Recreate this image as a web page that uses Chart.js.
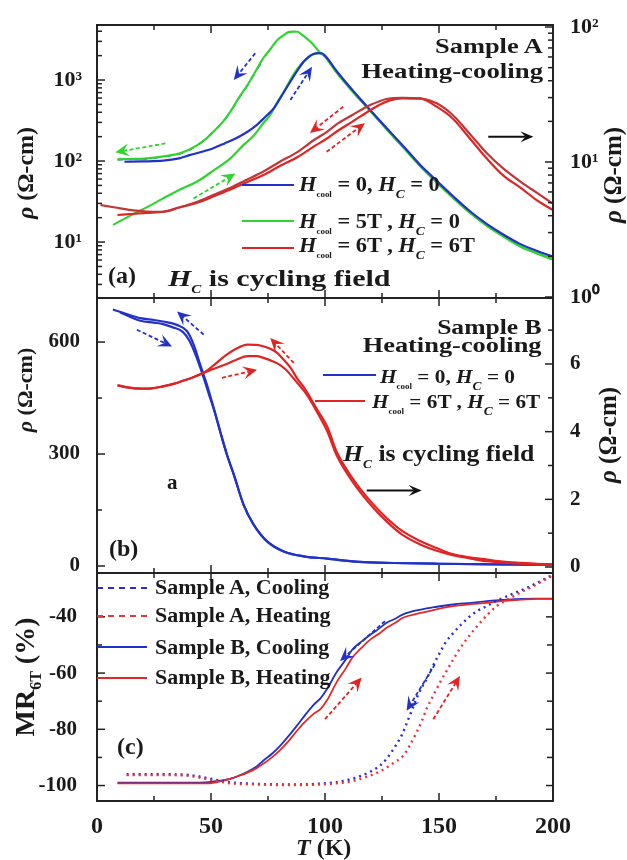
<!DOCTYPE html>
<html><head><meta charset="utf-8">
<script src="https://cdn.jsdelivr.net/npm/chart.js@4.4.1/dist/chart.umd.min.js"></script>
<style>
html,body{margin:0;padding:0;background:#fff;}
#wrap{position:relative;width:627px;height:860px;overflow:hidden;background:#fff;}
#wrap canvas{position:absolute;left:0;top:0;}
.t{position:absolute;white-space:nowrap;line-height:1;font-family:'Liberation Serif','Times New Roman',serif;font-weight:bold;color:#1a1a1a;}
.sc{font-size:8px;position:relative;top:6px;font-style:normal;}
.sC{font-size:12px;position:relative;top:7px;font-style:italic;}
.leg{position:absolute;height:0;}
</style></head><body>
<div id="wrap">
<canvas id="ca" width="627" height="860"></canvas>
<canvas id="cb" width="627" height="860"></canvas>
<canvas id="cc" width="627" height="860"></canvas>
</div>
<script>
// ---------------- DATA ----------------
// Panel (a) Sample A, log rho (left axis: H_cool=0 and 5T ; right axis: 6T cycling)
const T_aBlueHeat = [12,20,29,36,41,46,51,56,61,66,70,74,77.5,81,84.8,88,90.6,93,95,97,98.5,100,105,112.4,119.7,127,134.4,141.7,149,156.3,163.6,170.9,178,185.5,192.8,200];
const V_aBlueHeat = [98,99,101,108,119,130,144,165,191,230,278,355,447,640,953,1320,1680,1950,2100,2150,2140,2000,1300,730,430,255,152,90,57,36.5,24,16.8,12.5,9.5,7.8,6.6];
const T_aBlueCool = [9,15,22,30,37,44,48,51,55,58.5,62,66,70,72];
const V_aBlueCool = [104,105,107,114,125,156,189,229,298,404,585,860,1330,1620];
const T_aGreenCool = [9,15,22,30,37,44,48,51,55,58.5,62,66,70,73,76,79,82,84,86,88,90,92,94,96,98,100,105,112.4,119.7,127,134.4,141.7,149,156.3,163.6,170.9,178,185.5,192.8,200];
const V_aGreenCool = [105,106,108,115,126,157,190,230,300,406,590,866,1350,1870,2400,3100,3600,3900,3960,3940,3600,3250,2900,2500,2150,1950,1250,705,420,248,147,87,54.5,35,23,16,11.9,8.9,7.3,6.1];
const T_aGreenHeat = [7,15,22,29,36,44,51,58.5,64,69,73,76,79,82,85,88,91,94,97,98.5,100,105,112.4,119.7,127,134.4,141.7,149,156.3,163.6,170.9,178,185.5,192.8,200];
const V_aGreenHeat = [16.3,21.5,27,34.6,44,56,76,108,155,210,295,370,525,718,1030,1390,1720,2040,2140,2120,1950,1250,705,420,248,147,87,54.5,35,23,16,11.9,8.9,7.3,6.1];
const T_aRedCool = [1.5,8,15,22,29,36,44,51,58,65,73,80,88,95,101,106,112,120,127,134,142,149,156,164,171,178,186,193,200];
const V_aRedCool = [4.8,4.6,4.4,4.3,4.28,4.6,5.08,5.7,6.38,7.3,8.5,10.0,11.9,14.5,16.8,19.5,22.3,26.5,29.3,29.9,29.6,27.2,22.3,15.8,11.6,9.0,7.1,5.9,4.9];
const T_aRedHeat = [9,15,22,29,36,44,51,58,65,73,80,88,95,101,106,112,120,127,134,142,149,156,164,171,178,186,193,200];
const V_aRedHeat = [4.05,4.12,4.2,4.28,4.6,5.0,5.55,6.2,7.0,8.0,9.3,10.9,13.0,15.0,17.2,19.9,24.3,28.0,29.6,29.5,25.7,21.0,14.6,10.6,8.0,6.4,5.2,4.4];

// Panel (b) Sample B, linear rho (left: H_cool=0 ; right: 6T cycling)
const T_bBlueCool = [7,13,19,25,29,35,39.5,42.4,45.3,48.2,51.2,54,57,60,64.3,68.7,74.6,81.9,90.6,101,115,130,150,175,200];
const V_bBlueCool = [687,675,664,659,655,646,629,593,539,486,423,361,298,245,164,111,66,39,26,19.6,11,8,6,4.5,3.6];
const T_bBlueHeat = [10,19,25,29,33,37.5,40.4,43.3,46.2,49.2,52,54,57,60,64.3,68.7,74.6,81.9,90.6,101,115,130,150,175,200];
const V_bBlueHeat = [680,657,652,648,640,628,605,565,515,458,405,361,298,245,164,111,66,39,26,19.6,11,8,6,4.5,3.6];
const T_bRedCool = [9,14,19,24,29,34,38,43,47,51,56,61,66,72,76,79,82,85,88,91,94,97,101,105,112,120,127,134,142,149,156,164,171,178,186,193,200];
const V_bRedCool = [5.37,5.3,5.27,5.28,5.34,5.42,5.51,5.63,5.75,5.95,6.23,6.45,6.57,6.54,6.45,6.33,6.12,5.88,5.55,5.29,4.95,4.6,4.15,3.42,2.63,1.94,1.45,1.06,0.76,0.56,0.38,0.28,0.22,0.16,0.12,0.09,0.07];
const T_bRedHeat = [9,14,19,24,29,34,38,43,47,51,56,61,66,70,73,77,80,83,86,89,91,94,97,101,105,112,120,127,134,142,149,156,164,171,178,186,193,200];
const V_bRedHeat = [5.37,5.3,5.27,5.28,5.34,5.42,5.51,5.63,5.75,5.85,5.98,6.12,6.23,6.23,6.18,6.08,5.98,5.82,5.59,5.35,5.19,4.88,4.52,4.01,3.32,2.53,1.84,1.35,0.95,0.66,0.48,0.35,0.25,0.17,0.13,0.1,0.08,0.06];

// Panel (c) MR_6T (%)
const T_cACool = [13,20,30,40,45,50,55,60,70,80,90,98,105,112,116,120,124,127,131,134,136,138,140,142,144.5,147,150.4,153,156.3,160,163.6,167,170.9,175,179.7,184,188.5,194,200];
const V_cACool = [-96,-96,-96,-96.2,-96.8,-97.6,-98.4,-99,-99.4,-99.6,-99.6,-99.3,-98.8,-97.6,-96.5,-95,-93,-90.5,-85.8,-81.5,-77.5,-73.5,-69.3,-65.8,-62.2,-58,-52.7,-49,-45.7,-42.5,-39.8,-37.8,-36.2,-34.4,-32.7,-31.2,-29.7,-27.5,-25];
const T_cAHeat = [13,20,30,40,45,50,55,60,70,80,90,98,105,112,118,124,130,134.4,137,140.2,142.5,144.5,147.5,150.4,153.5,156.3,159,162.1,165,168,171.5,175.3,179,182.6,187,191.4,196,200];
const V_cAHeat = [-96.3,-96.3,-96.3,-96.5,-97.2,-98,-98.8,-99.3,-99.6,-99.8,-99.8,-99.6,-99.2,-98.4,-97,-95,-92,-89.3,-86,-81,-77,-72.8,-68,-63.4,-59,-55.1,-51.5,-48,-45,-42.1,-39,-36.2,-34.3,-32.7,-30.8,-29.1,-27,-25.2];
const T_cBCool = [9,20,30,40,49,54,58.5,62,66,70,73,77,80.4,84,87.7,91,95,98,101,105,109,112,116,120,124,127,131,134,142,149,156,164,171,178,186,193,200];
const V_cBCool = [-99,-99,-99,-99,-98.8,-98.3,-97.6,-96.6,-95.1,-93.2,-91.1,-88.5,-85.8,-82.4,-78.7,-75.2,-71.3,-69,-65.5,-59.8,-55.3,-51.6,-48.8,-46.3,-44,-42.1,-40.6,-39.2,-37.4,-36.4,-35.6,-35,-34.4,-34,-33.6,-33.5,-33.5];
const T_cBHeat = [9,20,30,40,49,54,58.5,62,66,70,73,77,80.4,84,87.7,91,95,98,101,105,109,112,116,120,124,127,131,134,142,149,156,164,171,178,186,193,200];
const V_cBHeat = [-99.2,-99.2,-99.2,-99.2,-99.2,-98.5,-97.5,-96.6,-95.4,-93.8,-92.2,-89.8,-87.3,-84.2,-80.5,-77.5,-74.5,-72.8,-69.5,-63.4,-58.5,-54.5,-51,-48,-45.8,-43.9,-42,-40.4,-38.6,-37.3,-36.2,-35.5,-35,-34.3,-33.9,-33.6,-33.6];

// Tick values
const X_TICK_LABELS = [0,50,100,150,200];
const X_MAJOR = [50,100,150];
const X_MINOR = [25,75,125,175];
const A_LEFT_MAJOR = [10,100,1000];
const A_LEFT_MINOR = [3,4,5,6,7,8,9,20,30,40,50,60,70,80,90,200,300,400,500,600,700,800,900,2000,3000,4000];
const A_RIGHT_MAJOR = [1,10,100];
const A_RIGHT_MINOR = [2,3,4,5,6,7,8,9,20,30,40,50,60,70,80,90];
const B_LEFT_MAJOR = [0,300,600];
const B_LEFT_MINOR = [150,450];
const B_RIGHT_MAJOR = [0,2,4,6];
const B_RIGHT_MINOR = [1,3,5,7];
const C_LEFT_MAJOR = [-100,-80,-60,-40];
const C_LEFT_MINOR = [-90,-70,-50];

// Arrows (data coordinates)
const ARROWS_A = [
  {y:'yL', from:[69.4,2140], to:[60,1000], c:'blue'},
  {y:'yL', from:[84.8,566], to:[94.3,1460], c:'blue'},
  {y:'yL', from:[30,165], to:[8,128], c:'green'},
  {y:'yL', from:[42.4,34.6], to:[60.7,70], c:'green'},
  {y:'yR', from:[108,25.7], to:[93.4,16.4], c:'red'},
  {y:'yR', from:[100.7,11.9], to:[117.5,19.4], c:'red'},
  {y:'yR', from:[171.6,15.4], to:[191.4,15.4], c:'black'}
];
const ARROWS_B = [
  {y:'yL', from:[17.5,633], to:[32.9,588], c:'blue'},
  {y:'yL', from:[46.8,620], to:[35.1,682], c:'blue'},
  {y:'yR', from:[86.3,6.03], to:[76,6.77], c:'red'},
  {y:'yR', from:[54.8,5.59], to:[70.2,5.83], c:'red'},
  {y:'yR', from:[118.3,2.26], to:[142.4,2.26], c:'black'}
];
const ARROWS_C = [
  {y:'yL', from:[126.3,-41.5], to:[106.6,-55.7], c:'blue'},
  {y:'yL', from:[100,-76.4], to:[116.1,-61.6], c:'red'},
  {y:'yL', from:[148.2,-56.9], to:[135.8,-73.4], c:'blue'},
  {y:'yL', from:[147.5,-76.4], to:[159.2,-61], c:'red'}
];

// ---------------- STYLE ----------------
const COL = {blue:'#2232c8', green:'#2fd42f', red:'#e02424', red2:'#c23636', black:'#111'};
const FONT = "'Liberation Serif','Times New Roman',serif";
const TXT = '#1a1a1a';
const W = 627;

const pts = (T,V) => T.map((t,i)=>({x:t,y:V[i]}));
function ds(T,V,color,axis,extra){
  return Object.assign({data:pts(T,V), borderColor:color, backgroundColor:color, borderWidth:2.2, yAxisID:axis,
    pointRadius:0, fill:false, cubicInterpolationMode:'monotone', clip:3}, extra||{});
}
const SUP = {'0':'\u2070','1':'\u00b9','2':'\u00b2','3':'\u00b3','4':'\u2074'};
const logLabel = v => { const e=Math.round(Math.log10(v)); return '10'+(SUP[String(e)]||e); };
const setTicks = arr => (s => { s.ticks = arr.map(v=>({value:v})); });

function yAxis(pos, type, min, max, major, width, fontSize, labelFn, pad){
  return {type, position:pos, min, max, bounds:'data',
    afterFit: s=>{ s.width = width; },
    afterBuildTicks: setTicks(major),
    ticks:{callback: labelFn || (v=>String(v)), font:{family:FONT, size:fontSize, weight:'bold'}, color:TXT, padding:pad, autoSkip:false},
    grid:{display:false}, border:{display:false}};
}

function arrowDraw(chart, ar){
  const ctx = chart.ctx, xs = chart.scales.x, ys = chart.scales[ar.y];
  const x1=xs.getPixelForValue(ar.from[0]), y1=ys.getPixelForValue(ar.from[1]);
  const x2=xs.getPixelForValue(ar.to[0]), y2=ys.getPixelForValue(ar.to[1]);
  const a=Math.atan2(y2-y1,x2-x1), c=Math.cos(a), s=Math.sin(a);
  const black = ar.c==='black';
  const hl = black?13:14, hw = black?5.5:6.5;
  const col = COL[ar.c];
  ctx.save();
  ctx.strokeStyle=col; ctx.fillStyle=col; ctx.lineWidth= black?2:1.8;
  ctx.setLineDash(black?[]:[4,2.5]);
  ctx.beginPath(); ctx.moveTo(x1,y1); ctx.lineTo(x2-hl*0.6*c, y2-hl*0.6*s); ctx.stroke();
  ctx.setLineDash([]);
  ctx.beginPath();
  ctx.moveTo(x2,y2);
  ctx.lineTo(x2-hl*c-hw*s, y2-hl*s+hw*c);
  ctx.lineTo(x2-hl*0.6*c, y2-hl*0.6*s);
  ctx.lineTo(x2-hl*c+hw*s, y2-hl*s-hw*c);
  ctx.closePath(); ctx.fill();
  ctx.restore();
}

function framePlugin(cfg){
  return {id:'frame'+cfg.name, afterDatasetsDraw(chart){
    const ctx=chart.ctx, a=chart.chartArea, sc=chart.scales;
    (cfg.arrows||[]).forEach(ar=>arrowDraw(chart, ar));
    ctx.save();
    ctx.strokeStyle='#222'; ctx.lineWidth=1.5;
    const tk=(x1,y1,x2,y2)=>{ctx.beginPath();ctx.moveTo(x1,y1);ctx.lineTo(x2,y2);ctx.stroke();};
    const x=sc.x;
    X_MAJOR.forEach(v=>{const p=x.getPixelForValue(v); tk(p,a.top,p,a.top+8); tk(p,a.bottom,p,a.bottom-8);});
    X_MINOR.forEach(v=>{const p=x.getPixelForValue(v); tk(p,a.top,p,a.top+5); tk(p,a.bottom,p,a.bottom-5);});
    if(cfg.left){const s=sc[cfg.left.id];
      cfg.left.major.forEach(v=>{const p=s.getPixelForValue(v); tk(a.left,p,a.left+8,p); if(cfg.mirror) tk(a.right,p,a.right-7,p);});
      cfg.left.minor.forEach(v=>{const p=s.getPixelForValue(v); tk(a.left,p,a.left+5,p); if(cfg.mirror) tk(a.right,p,a.right-6,p);});}
    if(cfg.right){const s=sc[cfg.right.id];
      cfg.right.major.forEach(v=>{const p=s.getPixelForValue(v); tk(a.right,p,a.right-8,p);});
      cfg.right.minor.forEach(v=>{const p=s.getPixelForValue(v); tk(a.right,p,a.right-5,p);});}
    ctx.lineWidth=2; ctx.strokeStyle='#222';
    ctx.strokeRect(a.left,a.top,a.right-a.left,a.bottom-a.top);
    ctx.restore();
  }};
}

const baseOpts = (padTop,padBottom,padRight,scales)=>({
  responsive:false, animation:false, events:[],
  layout:{padding:{top:padTop,bottom:padBottom,left:0,right:padRight}},
  plugins:{legend:{display:false}, tooltip:{enabled:false}},
  scales
});
const xHidden = {type:'linear', min:0, max:200, bounds:'data', display:false};

// ---------------- PANEL A ----------------
new Chart(document.getElementById('ca'), {
  type:'line',
  data:{datasets:[
    ds(T_aRedCool,V_aRedCool,COL.red2,'yR'),
    ds(T_aRedHeat,V_aRedHeat,COL.red,'yR'),
    ds(T_aBlueHeat,V_aBlueHeat,COL.blue,'yL'),
    ds(T_aGreenHeat,V_aGreenHeat,COL.green,'yL'),
    ds(T_aGreenCool,V_aGreenCool,COL.green,'yL'),
    ds(T_aBlueCool,V_aBlueCool,COL.blue,'yL',{borderDash:[6,6],borderWidth:1.6})
  ]},
  options: baseOpts(25, 562, 0, {
    x: xHidden,
    yL: yAxis('left','logarithmic',2.04,4775,A_LEFT_MAJOR,97,22,logLabel,7),
    yR: yAxis('right','logarithmic',0.983,103.5,A_RIGHT_MAJOR,74,22,logLabel,9)
  }),
  plugins:[framePlugin({name:'A', arrows:ARROWS_A, left:{id:'yL',major:A_LEFT_MAJOR,minor:A_LEFT_MINOR}, right:{id:'yR',major:A_RIGHT_MAJOR,minor:A_RIGHT_MINOR}})]
});

// ---------------- PANEL B ----------------
new Chart(document.getElementById('cb'), {
  type:'line',
  data:{datasets:[
    ds(T_bRedCool,V_bRedCool,COL.red,'yR'),
    ds(T_bRedHeat,V_bRedHeat,COL.red,'yR'),
    ds(T_bBlueCool,V_bBlueCool,COL.blue,'yL'),
    ds(T_bBlueHeat,V_bBlueHeat,COL.blue,'yL')
  ]},
  options: baseOpts(298, 287, 0, {
    x: xHidden,
    yL: yAxis('left','linear',-18.75,718,B_LEFT_MAJOR,97,21,null,9),
    yR: yAxis('right','linear',-0.177,7.95,B_RIGHT_MAJOR,74,21,null,9)
  }),
  plugins:[framePlugin({name:'B', arrows:ARROWS_B, left:{id:'yL',major:B_LEFT_MAJOR,minor:B_LEFT_MINOR}, right:{id:'yR',major:B_RIGHT_MAJOR,minor:B_RIGHT_MINOR}})]
});

// ---------------- PANEL C ----------------
new Chart(document.getElementById('cc'), {
  type:'line',
  data:{datasets:[
    ds(T_cAHeat,V_cAHeat,'#e23a3a','yL',{borderDash:[2,4],borderWidth:2.4}),
    ds(T_cACool,V_cACool,'#2a2ad2','yL',{borderDash:[2,4],borderWidth:2.4}),
    ds(T_cBHeat,V_cBHeat,'#e02a2a','yL',{borderWidth:1.8}),
    ds(T_cBCool,V_cBCool,'#2030c8','yL',{borderWidth:1.8})
  ]},
  options: baseOpts(573, 0, 74, {
    x: {type:'linear', min:0, max:200, bounds:'data', position:'bottom',
        afterFit: s=>{ s.height = 59; },
        afterBuildTicks: setTicks(X_TICK_LABELS),
        ticks:{font:{family:FONT,size:24,weight:'bold'}, color:TXT, padding:3, maxRotation:0, autoSkip:false},
        grid:{display:false}, border:{display:false}},
    yL: yAxis('left','linear',-105.5,-24.4,C_LEFT_MAJOR,97,21,null,12)
  }),
  plugins:[framePlugin({name:'C', arrows:ARROWS_C, mirror:true, left:{id:'yL',major:C_LEFT_MAJOR,minor:C_LEFT_MINOR}})]
});

// ---------------- TEXT OVERLAYS ----------------
const wrap = document.getElementById('wrap');
function txt(html, x, base, size, o){
  o = o||{};
  const d=document.createElement('div'); d.className='t'; d.innerHTML=html;
  d.style.fontSize=size+'px'; d.style.top=(base-0.84*size)+'px';
  const sx = o.sx||1;
  if(o.align==='right'){ d.style.right=(W-x)+'px'; d.style.transformOrigin='right top'; }
  else { d.style.left=x+'px'; d.style.transformOrigin='left top'; }
  if(sx!==1) d.style.transform='scaleX('+sx+')';
  wrap.appendChild(d);
}
function vtxt(html, cx, cy, size, sx){
  const d=document.createElement('div'); d.className='t'; d.innerHTML=html;
  d.style.fontSize=size+'px'; d.style.left=cx+'px'; d.style.top=cy+'px';
  d.style.transform='translate(-50%,-50%) rotate(-90deg) scaleX('+(sx||1)+')';
  wrap.appendChild(d);
}
function leg(x1,x2,y,color,style){
  const d=document.createElement('div'); d.className='leg';
  d.style.left=x1+'px'; d.style.width=(x2-x1)+'px'; d.style.top=(y-1)+'px';
  d.style.borderTop='2px '+(style||'solid')+' '+color;
  wrap.appendChild(d);
}
const Hc = '<i>H</i><span class="sc">cool</span>';
const HC = '<i>H</i><span class="sC">C</span>';

// panel a
txt('Sample A', 543, 53, 22, {align:'right', sx:1.2});
txt('Heating-cooling', 543, 78, 22, {align:'right', sx:1.22});
leg(242,294,185,COL.blue); leg(242,294,221,COL.green); leg(242,294,248,COL.red);
txt(Hc+' = 0, '+HC+' = 0', 299, 191, 20, {sx:1.12});
txt(Hc+' = 5T , '+HC+' = 0', 299, 228, 20, {sx:1.12});
txt(Hc+' = 6T , '+HC+' = 6T', 299, 252, 20, {sx:1.12});
txt('(a)', 108, 283, 24);
txt(HC+' is cycling field', 168, 286, 24, {sx:1.25});
vtxt('<i>\u03c1</i> (\u03a9-cm)', 25, 173, 24);
vtxt('<i>\u03c1</i> (\u03a9-cm)', 612, 175, 25);

// panel b
txt('Sample B', 542, 334, 20, {align:'right', sx:1.28});
txt('Heating-cooling', 542, 352, 20, {align:'right', sx:1.32});
leg(323,376,375,COL.blue); leg(315,365,401,COL.red);
txt(Hc+' = 0, '+HC+' = 0', 380, 383, 19, {sx:1.12});
txt(Hc+' = 6T , '+HC+' = 6T', 372, 408, 19, {sx:1.12});
txt(HC+' is cycling field', 343, 461, 23, {sx:1.12});
txt('a', 167, 490, 21);
txt('(b)', 109, 556, 24);
vtxt('<i>\u03c1</i> (\u03a9-cm)', 25, 390, 22);
vtxt('<i>\u03c1</i> (\u03a9-cm)', 607, 435, 25);

// panel c
leg(97,147,588,'#2a2ad2','dashed'); leg(97,147,616,'#e23a3a','dashed');
leg(97,147,647,'#2030c8'); leg(97,147,678,'#e02a2a');
txt('Sample A, Cooling', 155, 594, 20, {sx:1.1});
txt('Sample A, Heating', 155, 622, 20, {sx:1.1});
txt('Sample B, Cooling', 155, 654, 20, {sx:1.1});
txt('Sample B, Heating', 155, 684, 20, {sx:1.1});
txt('(c)', 117, 754, 24);
vtxt('MR<span style="font-size:16px;position:relative;top:7px">6T</span> (%)', 25, 677, 28);
txt('<i>T</i> (K)', 296, 855, 24);
</script></body></html>
